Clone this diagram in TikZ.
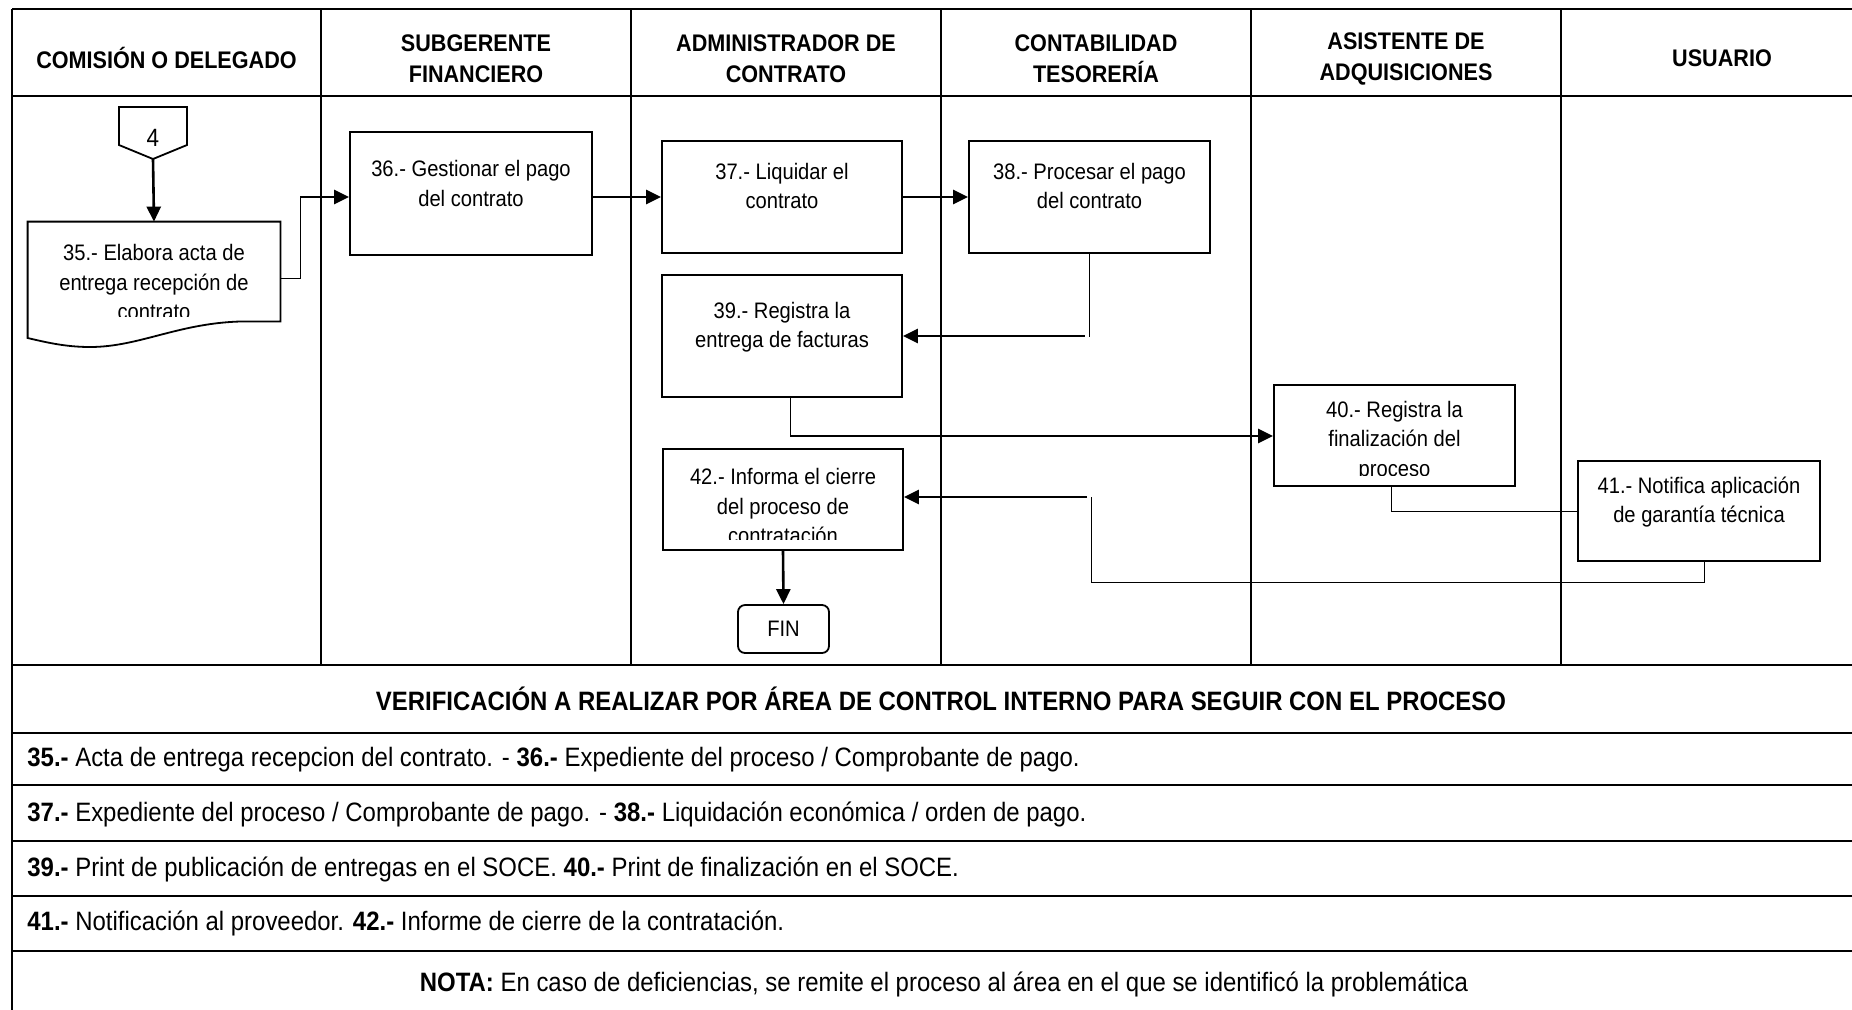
\documentclass[tikz,border=0pt]{standalone}
\usepackage{fontspec}
\setmainfont{Liberation Sans}[FakeStretch=0.9]
\usetikzlibrary{arrows.meta,calc}
\begin{document}
\begin{tikzpicture}[x=0.5pt,y=-0.5pt,
  tline/.style={line width=1.4pt},
  boxs/.style={draw,line width=0.9pt,inner sep=0pt},
  ghost/.style={inner sep=0pt},
  btxt/.style={align=center,inner sep=0pt,font=\fontsize{11.2}{14.7}\selectfont},
  hdr/.style={align=center,inner sep=0pt,font=\bfseries\fontsize{12}{15.5}\selectfont},
  rowt/.style={anchor=west,inner sep=0pt,font=\fontsize{13.3}{16}\selectfont},
  ttl/.style={inner sep=0pt,font=\bfseries\fontsize{13.3}{16}\selectfont},
  arr/.style={line width=1.3pt,-{Triangle[length=7.5pt,width=7pt]}},
  thinl/.style={line width=0.5pt}
]
\clip (0,0) rectangle (1852,1009);
\fill[white] (0,0) rectangle (1852,1009);

% ---- table grid
\foreach \yy in {9,96,665,733,785,841,896,951}
  \draw[tline] (12,\yy) -- (1900,\yy);
\draw[tline] (12,9) -- (12,1030);
\foreach \xx in {321,631,941,1251,1561}
  \draw[tline] (\xx,9) -- (\xx,665);

% ---- headers
\node[hdr] (h1) at (166.5,58) {COMISIÓN O DELEGADO};
\node[hdr] (h2) at (476,58.5) {SUBGERENTE\\FINANCIERO};
\node[hdr] (h3) at (786,58.5) {ADMINISTRADOR DE\\CONTRATO};
\node[hdr] (h4) at (1096,58.5) {CONTABILIDAD\\TESORERÍA};
\node[hdr] (h5) at (1406,58.5) {ASISTENTE DE\\ADQUISICIONES};
\node[hdr] (h6) at (1722,58) {USUARIO};

% ---- off-page connector 4
\draw[line width=0.9pt] (119,107) -- (187,107) -- (187,145) -- (153,159) -- (119,145) -- cycle;
\node[btxt,font=\fontsize{12.5}{14}\selectfont] (c4) at (153,138) {4};
\coordinate (c4tip) at (153,159);

% ---- box 35 (document shape)
\node[ghost,minimum width=126pt,minimum height=49.5pt] (b35) at (154,271.5) {};
\draw[line width=0.9pt] (b35.north west) -- (b35.north east) -- (b35.south east)
  -- ++(-35,0) .. controls (180,322) and (140,347) .. (90,347)
  .. controls (65,347) and (45,342) .. (b35.west |- 0,338) -- cycle;
\begin{scope}
  \clip (28,222) rectangle (280,316);
  \node[btxt] (t35) at (154,282) {35.- Elabora acta de\\entrega recepción de\\contrato};
\end{scope}

% ---- process boxes
\node[boxs,minimum width=121pt,minimum height=61.5pt] (b36) at (471,193.5) {};
\node[btxt] (t36) at (471,183.5) {36.- Gestionar el pago\\del contrato};

\node[boxs,minimum width=120pt,minimum height=56pt] (b37) at (782,197) {};
\node[btxt] (t37) at (782,186) {37.- Liquidar el\\contrato};

\node[boxs,minimum width=120.5pt,minimum height=56pt] (b38) at (1089.5,197) {};
\node[btxt] (t38) at (1089.5,186) {38.- Procesar el pago\\del contrato};

\node[boxs,minimum width=120pt,minimum height=61pt] (b39) at (782,336) {};
\node[btxt] (t39) at (782,327) {39.- Registra la\\entrega de facturas};

\node[boxs,minimum width=120.5pt,minimum height=50.5pt] (b40) at (1394.5,435.5) {};
\begin{scope}
  \clip (1274,385) rectangle (1515,475);
  \node[btxt] (t40) at (1394.5,441) {40.- Registra la\\finalización del\\proceso};
\end{scope}

\node[boxs,minimum width=121pt,minimum height=50pt] (b41) at (1699,511) {};
\node[btxt] (t41) at (1699,502) {41.- Notifica aplicación\\de garantía técnica};

\node[boxs,minimum width=120pt,minimum height=50.5pt] (b42) at (783,499.5) {};
\begin{scope}
  \clip (663,449) rectangle (903,539);
  \node[btxt] (t42) at (783,506) {42.- Informa el cierre\\del proceso de\\contratación};
\end{scope}

\node[boxs,rounded corners=3.5pt,minimum width=45.5pt,minimum height=24pt,
      font=\fontsize{11.2}{13}\selectfont] (fin) at (783.5,629) {FIN};

% ---- connectors
\draw[arr] (c4tip) -- (b35.north);

\coordinate (k1) at (300,278);
\coordinate (k2) at (300,197);
\draw[thinl] (b35.east |- k1) -- (k1) -- (k2);
\draw[arr] (k2) -- (b36.west |- k2);

\draw[arr] (b36.east |- b37.west) -- (b37.west);
\draw[arr] (b37.east) -- (b38.west);

\draw[thinl] (b38.south) -- ($(b38.south |- b39.east)+(0,1)$);
\draw[arr] ($(b38.south |- b39.east)+(-5,0)$) -- (b39.east);

\coordinate (k3) at (790,436);
\draw[thinl] (b39.south -| k3) -- (k3);
\draw[arr] (k3) -- (b40.west |- k3);

\coordinate (k4) at (1391,511);
\draw[thinl] (b40.south -| k4) -- (k4) -- (b41.west);

\coordinate (k5) at (1704,582);
\coordinate (k6) at (1091,582);
\coordinate (k7) at (1091,497);
\draw[thinl] (b41.south -| k5) -- (k5) -- (k6) -- (k7);
\draw[arr] ($(k7)+(-4,0)$) -- (b42.east |- k7);

\draw[arr] (b42.south) -- (fin.north);

% ---- lower table texts
\node[ttl] (vt) at (941,699) {VERIFICACIÓN A REALIZAR POR ÁREA DE CONTROL INTERNO PARA SEGUIR CON EL PROCESO};
\node[rowt] (r1) at (27,760) {\textbf{35.-} Acta de entrega recepcion del contrato. - \textbf{36.-} Expediente del proceso / Comprobante de pago.};
\node[rowt] (r2) at (27,814) {\textbf{37.-} Expediente del proceso / Comprobante de pago. - \textbf{38.-} Liquidación económica / orden de pago.};
\node[rowt] (r3) at (27,869) {\textbf{39.-} Print de publicación de entregas en el SOCE. \textbf{40.-} Print de finalización en el SOCE.};
\node[rowt] (r4) at (27,923) {\textbf{41.-} Notificación al proveedor. \textbf{42.-} Informe de cierre de la contratación.};
\node[rowt,anchor=center] (nota) at (944,984) {\textbf{NOTA:} En caso de deficiencias, se remite el proceso al área en el que se identificó la problemática};
\end{tikzpicture}
\end{document}
